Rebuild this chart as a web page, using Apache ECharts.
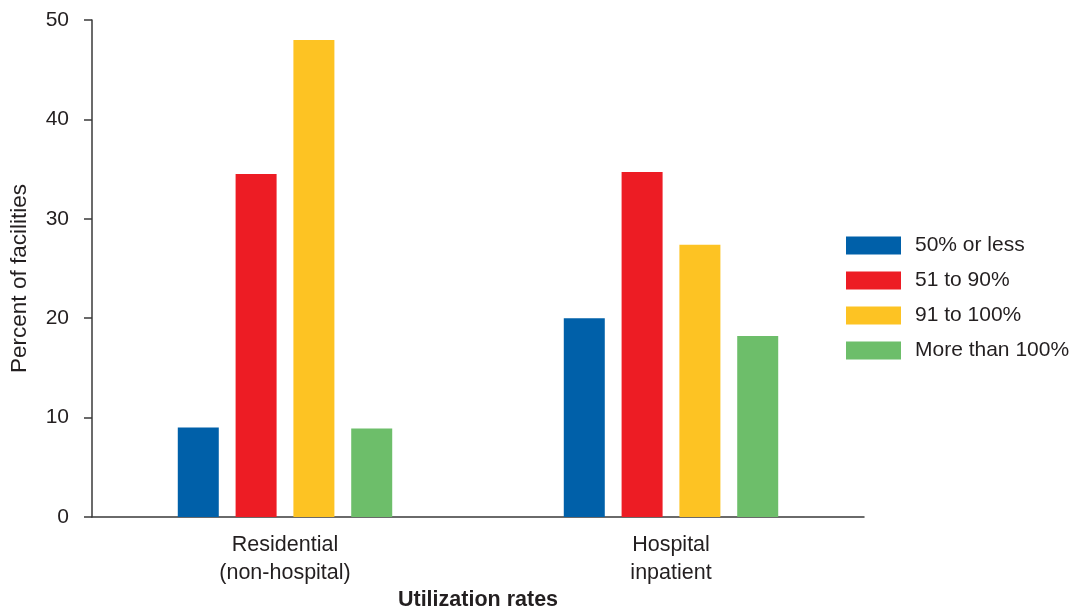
<!DOCTYPE html>
<html>
<head>
<meta charset="utf-8">
<script src="https://cdn.jsdelivr.net/npm/echarts@6/dist/echarts.min.js"></script>
<style>html,body{margin:0;padding:0;background:#fff;}#c{width:1073px;height:607px;}</style>
</head>
<body>
<div id="c"></div>
<script>
const categories = ['Residential\n(non-hospital)', 'Hospital\ninpatient'];
const seriesNames = ['50% or less', '51 to 90%', '91 to 100%', 'More than 100%'];
const lessThan50 = [9.0, 20.0];
const from51to90 = [34.5, 34.7];
const from91to100 = [48.0, 27.4];
const moreThan100 = [8.9, 18.2];
const yTicks = [0, 10, 20, 30, 40, 50];
const colors = ['#0060a9', '#ed1c24', '#fdc323', '#6dbe6a'];

const seriesData = [lessThan50, from51to90, from91to100, moreThan100];
const chart = echarts.init(document.getElementById('c'));
const font = 'Liberation Sans, Arial, Helvetica, sans-serif';
chart.setOption({
  animation: false,
  textStyle: { fontFamily: font },
  grid: { left: 92, right: 209, top: 20, bottom: 90, outerBoundsMode: 'none', containLabel: false },
  legend: {
    orient: 'vertical', left: 841, top: 230,
    itemWidth: 55, itemHeight: 18, itemGap: 14,
    icon: 'rect',
    data: seriesNames,
    textStyle: { fontSize: 21, color: '#231f20', fontFamily: font, padding: [0, 0, 0, 9] }
  },
  xAxis: {
    type: 'category', data: categories,
    axisLine: { lineStyle: { color: '#3a3a3a', width: 1.5 } },
    axisTick: { show: false },
    axisLabel: { fontSize: 21.5, color: '#231f20', lineHeight: 28, margin: 14, fontFamily: font },
    name: 'Utilization rates', nameLocation: 'middle', nameGap: 72, nameMoveOverlap: false,
    nameTextStyle: { fontSize: 21.5, fontWeight: 'bold', color: '#231f20', fontFamily: font }
  },
  yAxis: {
    type: 'value', min: yTicks[0], max: yTicks[yTicks.length - 1], interval: 10,
    axisLine: { show: true, lineStyle: { color: '#3a3a3a', width: 1.5 } },
    axisTick: { show: true, length: 8, lineStyle: { color: '#3a3a3a', width: 1.5 } },
    splitLine: { show: false },
    axisLabel: { fontSize: 21, color: '#231f20', margin: 23, fontFamily: font, padding: [8, 0, 0, 0] },
    name: 'Percent of facilities', nameLocation: 'middle', nameGap: 61, nameMoveOverlap: false,
    nameTextStyle: { fontSize: 22.5, color: '#231f20', fontFamily: font, padding: [0, 20, 0, 0] }
  },
  series: seriesNames.map((n, i) => ({
    name: n, type: 'bar', data: seriesData[i],
    barWidth: 41, barGap: '41%',
    itemStyle: { color: colors[i] }
  }))
});
</script>
</body>
</html>
